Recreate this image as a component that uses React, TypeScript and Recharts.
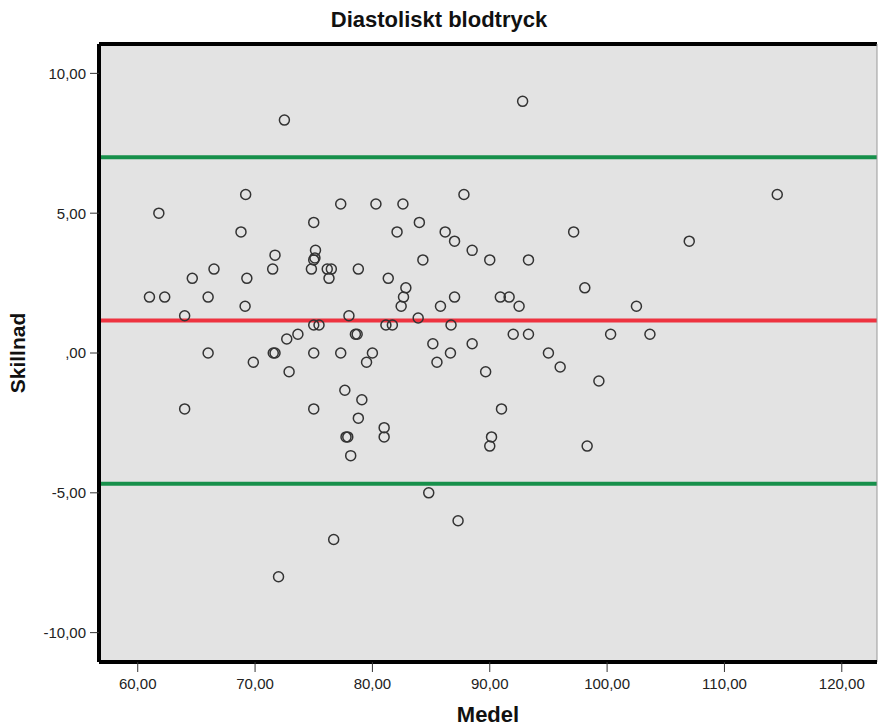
import { CartesianGrid, ReferenceLine, Scatter, ScatterChart, XAxis, YAxis } from "recharts";

// Bland-Altman: medel (mean of two readings) vs skillnad (difference)
const medel = [
  69.2, 61.8, 68.8, 71.7, 71.5, 66.5, 64.65, 69.3, 61.0, 62.3,
  66.0, 69.15, 64.0, 72.7, 66.0, 71.55, 71.7, 69.85, 72.9, 64.0,
  77.3, 80.3, 82.6, 75.0, 84.0, 82.1, 86.2, 75.15, 75.0, 75.1,
  74.8, 76.15, 76.5, 76.3, 78.8, 84.3, 81.35, 82.85, 82.65, 82.45,
  85.8, 78.0, 83.9, 75.0, 75.45, 81.15, 81.7, 73.65, 78.55, 78.7,
  85.15, 75.0, 77.3, 80.0, 79.5, 85.5, 77.65, 79.1, 75.0, 78.8,
  81.0, 81.0, 77.75, 77.9, 78.15, 87.8, 87.0, 97.15, 88.5, 90.0,
  93.3, 98.1, 87.0, 90.9, 91.65, 92.5, 86.7, 92.0, 93.3, 88.5,
  86.65, 95.0, 96.0, 89.65, 99.3, 91.0, 90.15, 90.0, 98.3, 114.5,
  107.0, 102.5, 100.3, 103.65, 84.8, 87.3, 76.7, 72.0, 72.5, 92.8,
];

const skillnad = [
  5.67, 5.0, 4.33, 3.5, 3.0, 3.0, 2.67, 2.67, 2.0, 2.0,
  2.0, 1.67, 1.33, 0.5, 0, 0, 0, -0.33, -0.67, -2.0,
  5.33, 5.33, 5.33, 4.67, 4.67, 4.33, 4.33, 3.67, 3.33, 3.4,
  3.0, 3.0, 3.0, 2.67, 3.0, 3.33, 2.67, 2.33, 2.0, 1.67,
  1.67, 1.33, 1.25, 1.0, 1.0, 1.0, 1.0, 0.67, 0.67, 0.67,
  0.33, 0, 0, 0, -0.33, -0.33, -1.33, -1.67, -2.0, -2.33,
  -2.67, -3.0, -3.0, -3.0, -3.67, 5.67, 4.0, 4.33, 3.67, 3.33,
  3.33, 2.33, 2.0, 2.0, 2.0, 1.67, 1.0, 0.67, 0.67, 0.33,
  0, 0, -0.5, -0.67, -1.0, -2.0, -3.0, -3.33, -3.33, 5.67,
  4.0, 1.67, 0.67, 0.67, -5.0, -6.0, -6.67, -8.0, 8.33, 9.0,
];

const xTicks = [60, 70, 80, 90, 100, 110, 120];
const yTicks = [-10, -5, 0, 5, 10];

const MEAN_DIFF = 1.16;
const UPPER_LIMIT = 7.0;
const LOWER_LIMIT = -4.68;

const X_MIN = 56.7;
const X_MAX = 123.0;
const Y_MIN = -11.05;
const Y_MAX = 11.05;

const GREEN = "#17904B";
const RED = "#EE3340";
const PANEL = "#E3E3E3";
const FONT = "'Liberation Sans', Arial, sans-serif";

const data = medel.map((x, i) => ({ x, y: skillnad[i] }));

const fmt = (v: number) => (v === 0 ? ",00" : v.toFixed(2).replace(".", ","));

const tickStyle = { fill: "#222", fontSize: 15, fontFamily: FONT };

const Ring = (props: any) => (
  <circle cx={props.cx} cy={props.cy} r={5} fill="none" stroke="#333" strokeWidth={1.5} />
);

export default function App() {
  return (
    <div style={{ position: "absolute", left: 0, top: 0, width: 878, height: 726, background: "#fff" }}>
      <div
        style={{
          position: "absolute",
          left: 0,
          top: 8,
          width: 878,
          textAlign: "center",
          fontFamily: FONT,
          fontWeight: 700,
          fontSize: 22,
          lineHeight: "24px",
          color: "#111",
        }}
      >
        Diastoliskt blodtryck
      </div>
      <ScatterChart width={878} height={726} margin={{ top: 44, right: 1, bottom: 0, left: 0 }}>
        <CartesianGrid horizontal={false} vertical={false} fill={PANEL} />
        <XAxis
          type="number"
          dataKey="x"
          domain={[X_MIN, X_MAX]}
          ticks={xTicks}
          allowDataOverflow
          tickFormatter={fmt}
          height={64}
          tickSize={10}
          tickMargin={6}
          tick={tickStyle}
          axisLine={{ stroke: "#000", strokeWidth: 4 }}
          tickLine={{ stroke: "#333" }}
          label={{
            value: "Medel",
            position: "insideBottom",
            offset: 4,
            style: { fill: "#111", fontSize: 22, fontWeight: 700, fontFamily: FONT },
          }}
        />
        <YAxis
          type="number"
          dataKey="y"
          domain={[Y_MIN, Y_MAX]}
          ticks={yTicks}
          allowDataOverflow
          tickFormatter={fmt}
          width={99}
          tickSize={9}
          tickMargin={4}
          tick={tickStyle}
          axisLine={{ stroke: "#000", strokeWidth: 4 }}
          tickLine={{ stroke: "#333" }}
          label={{
            value: "Skillnad",
            angle: -90,
            position: "insideLeft",
            offset: 18,
            style: { fill: "#111", fontSize: 21, fontWeight: 700, fontFamily: FONT, textAnchor: "middle" },
          }}
        />
        <ReferenceLine y={UPPER_LIMIT} stroke={GREEN} strokeWidth={4} />
        <ReferenceLine y={MEAN_DIFF} stroke={RED} strokeWidth={4} />
        <ReferenceLine y={LOWER_LIMIT} stroke={GREEN} strokeWidth={4} />
        <ReferenceLine y={Y_MAX} stroke="#000" strokeWidth={4} />
        <ReferenceLine x={X_MAX} stroke="#999" strokeWidth={1} />
        <Scatter data={data} shape={Ring} isAnimationActive={false} />
      </ScatterChart>
    </div>
  );
}
